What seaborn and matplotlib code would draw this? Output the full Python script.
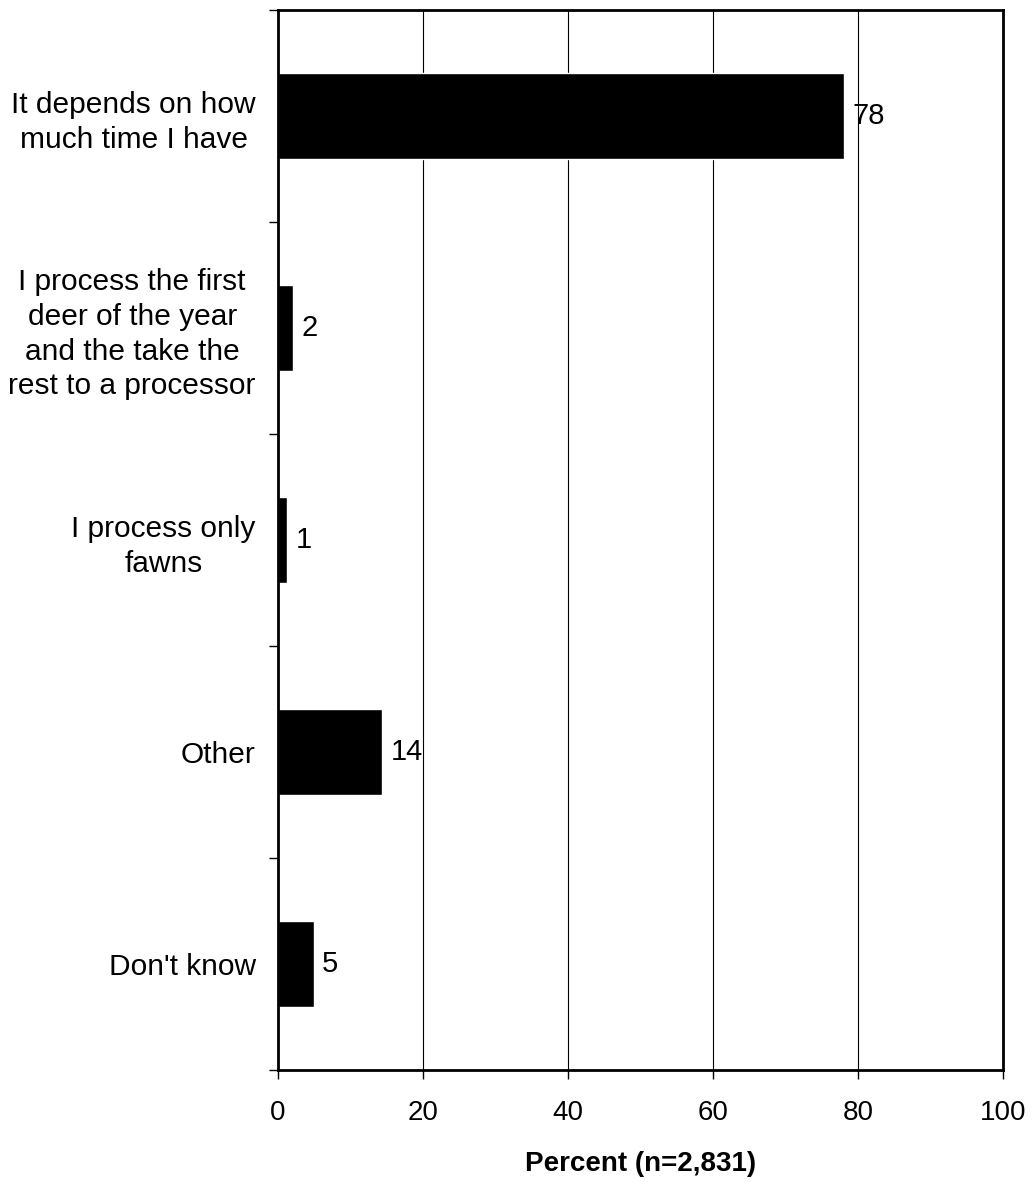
import numpy as np
import pandas as pd
import seaborn as sns
import matplotlib.pyplot as plt

# Chart data
categories = [
    "It depends on how\nmuch time I have",
    "I process the first\ndeer of the year\nand the take the\nrest to a processor",
    "I process only\nfawns",
    "Other",
    "Don't know",
]
percents = [78.1, 2.1, 1.3, 14.4, 4.9]
value_labels = ["78", "2", "1", "14", "5"]
x_ticks = [0, 20, 40, 60, 80, 100]

df = pd.DataFrame({"Category": categories, "Percent": percents})

sns.set_theme(style="white")
plt.rcParams["font.family"] = ["Liberation Sans", "DejaVu Sans"]
plt.rcParams["text.color"] = "black"
plt.rcParams["xtick.color"] = "black"
plt.rcParams["ytick.color"] = "black"
plt.rcParams["axes.labelcolor"] = "black"

fig = plt.figure(figsize=(10.34, 11.82), dpi=100)
ax = fig.add_axes([0.2689, 0.0948, 0.7012, 0.8967])

sns.barplot(data=df, x="Percent", y="Category", color="black",
            saturation=1, width=0.41, ax=ax)

ax.set_xlim(0, 100)
ax.set_ylim(4.5, -0.5)
ax.set_xticks(x_ticks)
ax.grid(axis="x", color="black", linewidth=0.8)
ax.set_axisbelow(True)

for s in ax.spines.values():
    s.set_visible(True)
    s.set_color("black")
    s.set_linewidth(2)

# category boundary ticks on the left
ax.set_yticks(np.arange(-0.5, 5, 1), minor=True)
ax.tick_params(axis="y", which="major", length=0, pad=16, labelsize=21.5)
ax.tick_params(axis="y", which="minor", left=True, length=6.5, width=1, color="black")
ax.tick_params(axis="x", which="major", bottom=True, direction="out", length=6.5,
               width=1, color="black", pad=15, labelsize=20)
for lbl in ax.get_yticklabels():
    lbl.set_multialignment("center")
    lbl.set_linespacing(1.3)

ax.bar_label(ax.containers[0], labels=value_labels, padding=6, fontsize=21)

ax.set_ylabel("")
ax.set_xlabel("Percent (n=2,831)", fontsize=20, fontweight="bold", labelpad=18)

fig.savefig("out.png", dpi=100, facecolor="white")
